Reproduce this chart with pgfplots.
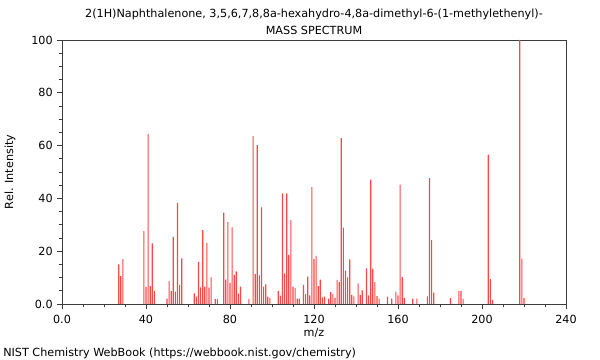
\documentclass[border=0pt]{standalone}
\usepackage{fontspec}
\setmainfont{DejaVu Sans}
\usepackage{pgfplots}
\pgfplotsset{compat=1.18}
\definecolor{peak}{RGB}{255,70,70}
\definecolor{axc}{RGB}{60,60,60}
\begin{document}
\fontsize{8.4}{10}\selectfont
\begin{tikzpicture}
\path[use as bounding box] (-46.5pt,-42pt) rectangle (403.5pt,228pt);
\begin{axis}[
  at={(0,0)}, anchor=south west,
  scale only axis, width=378pt, height=198pt,
  xmin=0, xmax=240, ymin=0, ymax=100,
  xtick={0,40,...,240}, xticklabels={0.0,40,80,120,160,200,240},
  ytick={0,20,...,100}, yticklabels={0.0,20,40,60,80,100},
  minor x tick num=3, minor y tick num=3,
  tick align=outside, xtick pos=bottom, ytick pos=left,
  major tick length=4pt, minor tick length=2.5pt,
  every tick/.style={axc, line width=0.5pt},
  axis line style={axc, line width=0.6pt},
  /pgf/number format/assume math mode=true,
  tick label style={font=\fontsize{8.4}{10}\selectfont},
  xticklabel style={yshift=-1.5pt},
  xlabel={m/z}, ylabel={Rel. Intensity},
  every axis x label/.style={at={(axis description cs:0.5,0)}, yshift=-21.75pt, anchor=center},
  every axis y label/.style={at={(axis description cs:0,0.5)}, xshift=-39pt, rotate=90, anchor=center},
  clip=false,
]
\addplot[ybar, bar width=0.85pt, fill=peak, draw=none, no marks] table {
27 15.0
28 10.6
29 17.0
39 27.6
40 6.5
41 64.4
42 6.8
43 23.0
44 4.9
50 2.0
51 8.7
52 4.9
53 25.4
54 4.7
55 38.3
56 7.2
57 17.3
63 4.0
64 2.8
65 16.0
66 6.3
67 28.0
68 6.6
69 23.2
70 6.2
71 10.1
73 1.8
74 1.8
77 34.6
78 9.2
79 31.0
80 8.0
81 29.0
82 11.0
83 12.4
84 3.9
85 6.6
89 1.8
91 63.6
92 11.4
93 60.2
94 10.8
95 36.6
96 6.6
97 7.4
98 2.8
99 2.3
103 4.9
104 3.2
105 41.9
106 11.6
107 41.9
108 18.6
109 31.8
110 6.6
111 6.1
112 2.0
113 2.0
115 7.2
116 3.7
117 10.4
118 3.3
119 44.3
120 17.0
121 18.2
122 6.8
123 9.2
124 2.5
125 2.8
127 2.0
128 4.5
129 3.8
130 2.3
131 9.1
132 8.3
133 62.8
134 28.9
135 12.6
136 10.1
137 16.9
138 3.5
139 2.9
141 7.8
142 3.5
143 5.2
145 13.5
146 3.3
147 47.1
148 13.3
149 8.3
150 3.0
151 2.0
155 2.8
157 2.0
159 4.7
160 3.3
161 45.2
162 10.2
163 2.3
167 2.0
169 2.0
174 2.9
175 47.7
176 24.2
177 4.3
185 2.2
189 5.0
190 5.0
191 1.9
203 56.6
204 9.5
205 1.6
218 100
219 17.2
220 2.3
};
\node[anchor=center] at ([yshift=19.5pt]axis description cs:0.5,1) {2(1H)Naphthalenone, 3,5,6,7,8,8a-hexahydro-4,8a-dimethyl-6-(1-methylethenyl)-};
\node[anchor=center] at ([yshift=7.5pt]axis description cs:0.5,1) {MASS SPECTRUM};
\node[anchor=west, inner sep=0pt] at ([xshift=-44.25pt,yshift=-36.75pt]axis description cs:0,0) {NIST Chemistry WebBook (https://webbook.nist.gov/chemistry)};
\end{axis}
\end{tikzpicture}
\end{document}
